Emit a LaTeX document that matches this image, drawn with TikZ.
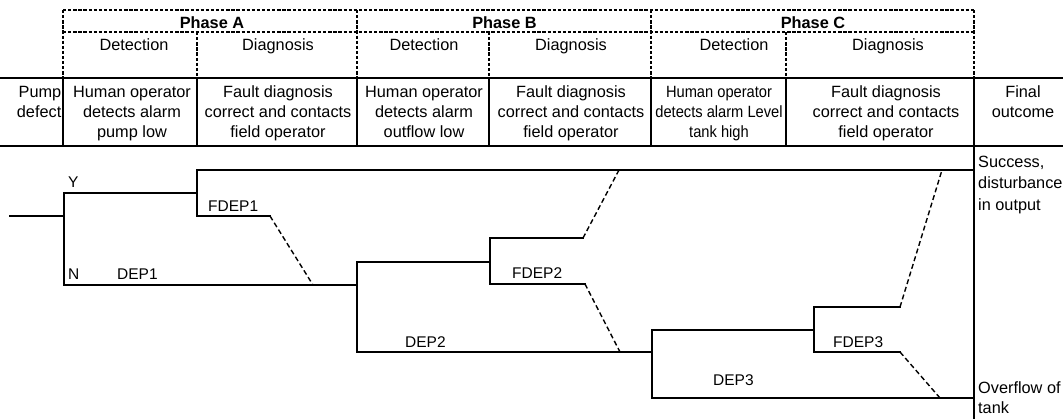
\documentclass[tikz,border=0pt]{standalone}
\usepackage{fontspec}
\setmainfont{Liberation Sans}
\newfontfamily\narrowsans[FakeStretch=0.9]{Liberation Sans}
\newcommand{\hdrfont}{\fontsize{16.3}{20}\selectfont}
\newcommand{\lblfont}{\fontsize{15.5}{20}\selectfont}
\begin{document}
\begin{tikzpicture}[x=1pt,y=-1pt,
  rule/.style={line width=2pt,line cap=rect},
  hdash/.style={line width=1.5pt,dash pattern=on 3.3pt off 1.8pt},
  branch/.style={line width=2.2pt,line cap=rect,line join=miter},
  fdash/.style={line width=1.4pt,dash pattern=on 5pt off 3pt},
  cell/.style={align=center,inner sep=0pt,anchor=north,font=\hdrfont},
  head/.style={inner sep=0pt,anchor=base,font=\hdrfont},
  lbl/.style={inner sep=0pt,anchor=base west,font=\lblfont}]
\useasboundingbox (0,0) rectangle (1063,418);

% ---- phase header (dashed frame) ----
\draw[hdash] (63,10) -- (974,10);
\draw[hdash] (63,32) -- (974,32);
\foreach \x in {63,357,651,974} \draw[hdash] (\x,10) -- (\x,78);
\foreach \x in {197,489,786} \draw[hdash] (\x,32) -- (\x,78);

\node[head,font=\hdrfont\bfseries] (phA) at (212,28.5) {Phase A};
\node[head,font=\hdrfont\bfseries] (phB) at (504.5,28.5) {Phase B};
\node[head,font=\hdrfont\bfseries] (phC) at (813,28.5) {Phase C};

\node[head] (detA) at (134,50.5) {Detection};
\node[head] (diaA) at (278,50.5) {Diagnosis};
\node[head] (detB) at (424,50.5) {Detection};
\node[head] (diaB) at (571,50.5) {Diagnosis};
\node[head] (detC) at (734,50.5) {Detection};
\node[head] (diaC) at (888,50.5) {Diagnosis};

% ---- event row ----
\draw[rule] (0,78) -- (1063,78);
\draw[rule] (0,146) -- (1063,146);
\foreach \x in {63,197,357,489,651,786} \draw[rule] (\x,78) -- (\x,146);
\draw[rule] (974,78) -- (974,418);

\node[cell,align=right,anchor=north east] (pump) at (61.5,83) {\strut Pump\\defect};
\node[cell] (evA1) at (132,83) {\strut Human operator\\detects alarm\\pump low};
\node[cell] (evA2) at (278,83) {\strut Fault diagnosis\\correct and contacts\\field operator};
\node[cell] (evB1) at (424,83) {\strut Human operator\\detects alarm\\outflow low};
\node[cell] (evB2) at (571,83) {\strut Fault diagnosis\\correct and contacts\\field operator};
\node[cell,font=\narrowsans\hdrfont] (evC1) at (719,83) {\strut Human operator\\detects alarm Level\\tank high};
\node[cell] (evC2) at (886,83) {\strut Fault diagnosis\\correct and contacts\\field operator};
\node[cell] (final) at (1023,83) {\strut Final\\outcome};

% ---- outcomes ----
\node[cell,align=left,anchor=north west,font=\fontsize{16.3}{21.5}\selectfont] (succ) at (978,152) {\strut Success,\\disturbance\\in output};
\node[cell,align=left,anchor=north west] (ovfl) at (978,379) {\strut Overflow of\\tank};

% ---- event tree ----
\coordinate (s0) at (10,216);
\coordinate (r1) at (64,216);
\coordinate (y1) at (64,193);
\coordinate (n1) at (64,285);
\coordinate (a1) at (197,193);
\coordinate (a1t) at (197,170);
\coordinate (a1b) at (197,216);
\coordinate (f1) at (270,216);
\coordinate (d1) at (313,285);
\coordinate (okend) at (974,170);
\coordinate (b0) at (357,285);
\coordinate (b1t) at (357,262);
\coordinate (b1b) at (357,352);
\coordinate (c0) at (490,262);
\coordinate (c0t) at (490,238);
\coordinate (c0b) at (490,284);
\coordinate (f2t) at (583,238);
\coordinate (u2) at (619,170);
\coordinate (f2b) at (585,284);
\coordinate (d2) at (620,352);
\coordinate (e0) at (652,352);
\coordinate (e0t) at (652,330);
\coordinate (e0b) at (652,398);
\coordinate (g0) at (814,330);
\coordinate (g0t) at (814,307);
\coordinate (g0b) at (814,352);
\coordinate (f3t) at (900,307);
\coordinate (u3) at (942,170);
\coordinate (f3b) at (900,352);
\coordinate (d3) at (940,398);
\coordinate (badend) at (974,398);

\draw[branch] (s0) -- (r1);
\draw[branch] (a1) -- (y1) -- (n1) -- (b0);
\draw[branch] (okend) -- (a1t) -- (a1b) -- (f1);
\draw[branch] (b1b) -- (b1t) -- (c0);
\draw[branch] (f2t) -- (c0t) -- (c0b) -- (f2b);
\draw[branch] (e0t) -- (e0b) -- (badend);
\draw[branch] (b1b) -- (e0);
\draw[branch] (e0t) -- (g0);
\draw[branch] (f3t) -- (g0t) -- (g0b) -- (f3b);

\draw[fdash] (f1) -- (d1);
\draw[fdash] (f2t) -- (u2);
\draw[fdash] (f2b) -- (d2);
\draw[fdash] (f3t) -- (u3);
\draw[fdash] (f3b) -- (d3);

\node[lbl] (lY) at (68,187) {Y};
\node[lbl] (lN) at (68,279) {N};
\node[lbl] (lD1) at (117,279) {DEP1};
\node[lbl] (lF1) at (208,211) {FDEP1};
\node[lbl] (lD2) at (405,347) {DEP2};
\node[lbl] (lF2) at (512,278.5) {FDEP2};
\node[lbl] (lD3) at (713,385) {DEP3};
\node[lbl] (lF3) at (833,347) {FDEP3};
\end{tikzpicture}
\end{document}
